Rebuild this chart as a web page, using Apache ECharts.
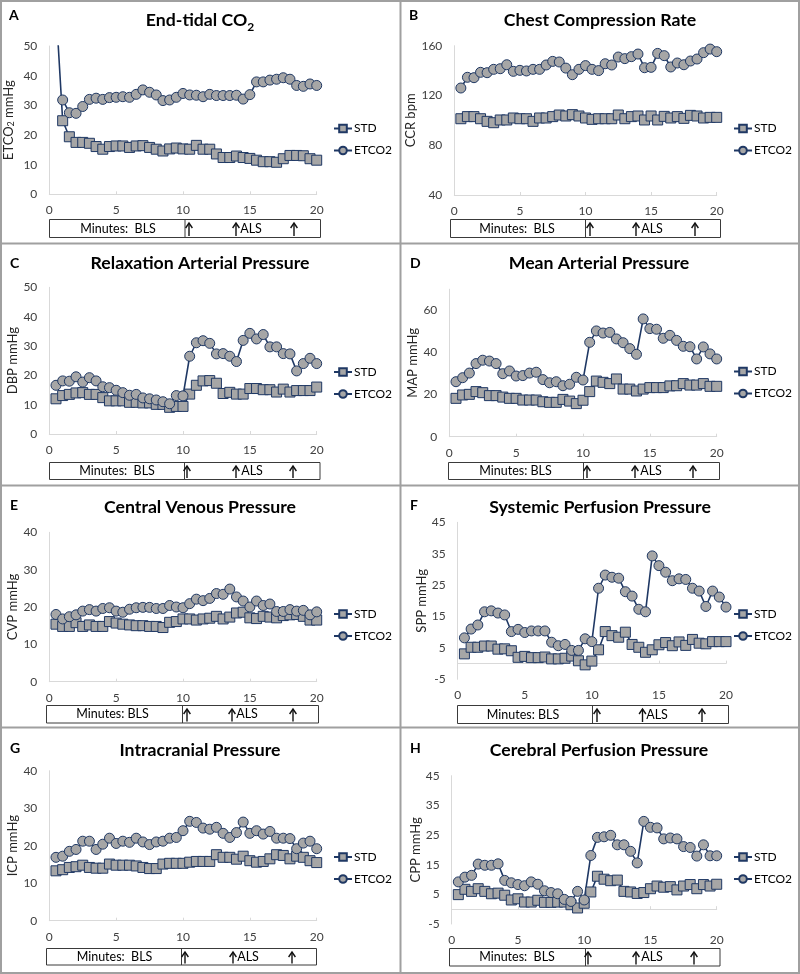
<!DOCTYPE html>
<html><head><meta charset="utf-8">
<script src="https://cdn.jsdelivr.net/npm/echarts@6/dist/echarts.min.js"></script>
<style>html,body{margin:0;padding:0;background:#fff}#c{width:800px;height:974px}</style>
</head><body><div id="c"></div>
<script>
// ---------- data ----------
const minutes = [0.5,1,1.5,2,2.5,3,3.5,4,4.5,5,5.5,6,6.5,7,7.5,8,8.5,9,9.5,10,10.5,11,11.5,12,12.5,13,13.5,14,14.5,15,15.5,16,16.5,17,17.5,18,18.5,19,19.5,20];
const seriesNames = ['STD','ETCO2'];
const xTicks = [0,5,10,15,20];

const etco2Std   = [63,24.8,19.4,17.5,17.5,17.2,16.1,15.2,16.1,16.3,16.3,15.8,16.3,16.4,15.8,15.2,14.6,15.3,15.6,15.3,15.2,16.5,15.2,15.2,13.6,12.4,12.4,12.9,12.4,12.1,11.5,11,11,10.8,12,13.1,13.1,13,12,11.5];
const etco2Etco2 = [null,31.8,27.5,27.3,29.6,32,32.4,32,32.6,32.7,32.9,32.7,33.7,35.2,34.4,33.5,31.6,31.8,32.7,34,33.5,33.4,32.9,33.7,33.3,33.3,33.3,33.4,32.1,33.6,37.9,37.9,38.5,38.8,39.3,38.8,36.7,36.4,37.2,36.7];
const ccrStd     = [101.3,103,103,101.3,99.2,98.1,100.3,100.3,101.9,101.3,101.3,99.2,101.9,101.9,103,104.3,103.5,104.6,103.5,101.9,100.8,101.3,101.3,101.3,104.3,101.3,103,103.5,100.3,103.5,100.3,103.2,101.9,103,101.6,104,103.5,101.9,102.4,102.4];
const ccrEtco2   = [126,134.6,134.3,138.6,138.3,141,141.5,144.7,139.4,140.2,139.7,141,141,144.5,147.4,146.9,142,136.7,141,144,141,140,145.5,144.5,150.9,149.6,151.2,153.3,142.3,142.6,153.8,152,142.9,146.1,144.7,147.7,149.3,154.4,157.3,155.2];
const dbpStd     = [12,13.1,13.5,14,14.1,13.5,13.5,12.4,11.3,11.3,11.3,10.8,10.8,10.6,10.6,10.1,10.1,9.1,9.4,9.4,13.6,16.6,18.1,18.2,17.3,13.8,14.2,13.6,13.6,15.5,15.5,15.1,15.1,14.3,15.3,14.3,14.8,14.8,14.8,16];
const dbpEtco2   = [16.6,18.1,18,19.5,17.7,19.2,18.1,16.1,15.8,14.9,14.1,13.2,13.5,12.3,12,11.6,11,10.3,13.1,13,26.5,31.1,31.8,30.9,27.3,27.4,26.5,24.7,31.9,34.3,32.4,33.9,29.7,29.7,27.4,27.3,21.5,24,25.8,24];
const mapStd     = [18.2,19.8,20.1,21.4,20.9,19.5,19.5,18.8,18.2,18.2,17.4,17.4,17.4,16.6,16.3,16.3,17.7,16.9,15.7,17.3,21.4,26.4,25.8,25.2,27.4,22.6,22.6,21.7,22.6,23.3,23.3,23.3,24.1,24.2,25.2,24.5,24.5,25.2,23.9,23.9];
const mapEtco2   = [26.1,28,30.2,34.7,36.3,35.9,34.7,29.9,31.2,28.8,29,30.2,30.6,27.1,25.6,26.1,24.2,24.9,28.2,26.9,44.8,50.2,49.2,49.5,46.4,44.6,41.8,39.1,55.9,51.3,51,46.7,48.1,45.7,42.9,42.7,36.9,42.6,39.3,36.9];
const cvpStd     = [15.4,14.8,14.8,15.8,14.8,15.2,14.8,14.8,16.1,15.7,15.4,15.2,15,15,14.8,14.8,14.5,15.9,16.1,16.8,16.8,16.5,16.8,17,17.5,16.8,17.3,18.4,18.6,17.1,16.9,17.5,17.3,17.1,17.7,17.9,18,17.5,16.5,16.5];
const cvpEtco2   = [18,16.8,17.4,17.9,18.9,19.3,18.9,19.6,19.8,18.9,18.6,19.4,19.8,19.9,19.9,19.6,19.6,20.4,20,19.8,20.9,22.1,21.7,22.3,23.6,23.4,24.8,22.7,21.6,20,21.6,20.4,20.8,18.8,18.8,19.3,18.9,19.1,17.9,18.7];
const sppStd     = [3.1,5.2,5.2,5.6,5.6,4.6,4.7,4.1,2,2.3,1.9,1.9,2.1,1.5,1.5,1.7,2.4,0.9,-0.4,0.8,4.4,10.2,8.9,8.4,10,6.1,5.2,3.6,4.4,6,6.7,5.7,6.9,5.8,7.7,6.5,6.3,7,7,7];
const sppEtco2   = [8.2,11,12.3,16.5,16.8,16.1,15.5,10.2,10.9,9.9,10.4,10.4,10.4,6.8,5.7,6.1,4.2,4.2,7.9,7,24,28.2,27.5,27.2,22.9,21.5,17.3,16.5,34.3,31.2,29.1,26.4,27,26.8,24,23.1,18.2,23.1,21.2,18];
const icpStd     = [13.3,13.6,14.2,14.4,14.8,14.2,14,14,15.1,14.8,14.8,14.8,14.6,14.2,13.9,13.9,15.1,15.3,15.3,15.3,15.6,15.8,15.8,15.8,17.6,16.9,16.9,16.4,17.2,16,15.6,15.8,16.5,17.6,17.4,16.5,17.2,16.9,16,15.5];
const icpEtco2   = [16.9,17.2,18.5,19,21.2,21.2,19,20.4,22,20.6,21.2,20.9,22,21,20.3,21,21.2,22,22.2,24,26.5,26.2,24.7,24.4,24.9,23.3,22.2,23.5,26.3,23.3,24,23.1,23.8,22,22,21.9,19.2,20.7,21.2,19.2];
const cppStd     = [4.9,6.7,6,6.9,6,5.2,5.4,4.7,3.1,3.5,2.4,2.4,3,2.3,2.3,2.4,2.4,1.5,0.4,2,5.8,11.1,10.1,9.6,9.8,6,5.8,5.3,5.6,6.9,7.8,7.4,7.6,6.5,7.8,8.3,6.9,8.3,7.8,8.4];
const cppEtco2   = [9.2,10.8,11.4,15.2,14.8,14.8,15.3,9.7,8.9,8.3,7.9,9.2,8.4,6.2,5.6,5.2,3.3,2.6,6,3.1,18.1,24.2,24.4,24.9,21.7,21.7,19.5,15.6,29.6,27.6,27.4,23.7,24,23.7,21.1,20.8,17.9,21.7,18,18];

const ticksA = [0,10,20,30,40,50];
const ticksB = [40,80,120,160];
const ticksC = [0,10,20,30,40,50];
const ticksD = [0,20,40,60];
const ticksE = [0,10,20,30,40];
const ticksF = [-5,5,15,25,35,45];
const ticksG = [0,10,20,30,40];
const ticksH = [-5,5,15,25,35,45];

const panels = [
  {letter:'A', title:'End-tidal CO{s|2}', yName:'ETCO{s|2} mmHg', std:etco2Std, et:etco2Etco2, ticks:ticksA, min:0, max:50, boxText:'Minutes:  BLS'},
  {letter:'B', title:'Chest Compression Rate', yName:'CCR bpm', std:ccrStd, et:ccrEtco2, ticks:ticksB, min:40, max:160, boxText:'Minutes:  BLS'},
  {letter:'C', title:'Relaxation Arterial Pressure', yName:'DBP mmHg', std:dbpStd, et:dbpEtco2, ticks:ticksC, min:0, max:50, boxText:'Minutes:  BLS'},
  {letter:'D', title:'Mean Arterial Pressure', yName:'MAP mmHg', std:mapStd, et:mapEtco2, ticks:ticksD, min:0, max:70, boxText:'Minutes: BLS'},
  {letter:'E', title:'Central Venous Pressure', yName:'CVP mmHg', std:cvpStd, et:cvpEtco2, ticks:ticksE, min:0, max:40, boxText:'Minutes: BLS'},
  {letter:'F', title:'Systemic Perfusion Pressure', yName:'SPP mmHg', std:sppStd, et:sppEtco2, ticks:ticksF, min:-5, max:45, boxText:'Minutes: BLS'},
  {letter:'G', title:'Intracranial Pressure', yName:'ICP mmHg', std:icpStd, et:icpEtco2, ticks:ticksG, min:0, max:40, boxText:'Minutes:  BLS'},
  {letter:'H', title:'Cerebral Perfusion Pressure', yName:'CPP mmHg', std:cppStd, et:cppEtco2, ticks:ticksH, min:-5, max:45, boxText:'Minutes:  BLS'}
];

// ---------- layout (pixels) ----------
const layout = [
  {grid:[49.3,46,267.4,148.3], cx:200, capY:21, letter:[9,15], nameGap:34, leg:[333,122.5], box:[49.5,219.5,271,18], div:185, arrows:[189,236,294], bls:118, als:251},
  {grid:[454.3,45.7,262.4,149.3], cx:600, capY:21, letter:[409,15], nameGap:32, leg:[733,122.5], box:[450.5,219.5,270,18], div:585.5, arrows:[590,636,695], bls:517, als:652},
  {grid:[49.3,287.3,267.4,146.7], cx:200, capY:264, letter:[10,263], nameGap:27, leg:[333,366], box:[49.5,462.5,270.5,17], div:184.5, arrows:[187,236,293], bls:117, als:252},
  {grid:[449.3,289.2,267.4,147.5], cx:599, capY:264, letter:[410,263], nameGap:27, leg:[733,365.5], box:[448.5,462.5,271,17], div:583.5, arrows:[587,635,693], bls:515.5, als:651},
  {grid:[49.3,532.3,267.4,149.4], cx:200, capY:508, letter:[10,505], nameGap:27, leg:[333,608], box:[46.5,705.5,272,17.5], div:182.5, arrows:[187,232,293], bls:112.5, als:247},
  {grid:[457.7,522.3,268.3,157], cx:600, capY:508, letter:[410,505], nameGap:28, leg:[733,608], box:[457.5,705.5,271,18], div:592.5, arrows:[597,642.5,702], bls:523, als:657},
  {grid:[49.3,770.7,267.4,150], cx:200, capY:751, letter:[10,748], nameGap:27, leg:[333,851], box:[46.5,948.5,270,16.5], div:181.5, arrows:[185,233,292], bls:114.5, als:248},
  {grid:[451.7,775.7,265,148.3], cx:599, capY:751, letter:[410,748], nameGap:28, leg:[733,851], box:[449.5,948.5,270.5,17.5], div:585.5, arrows:[588,636,694], bls:517, als:652}
];

const NAVY = '#1f3864', FILL = '#a6a6a6', AXIS = '#d9d9d9', TXT = '#404040';
const FONT = 'Lato';

const grids = [], xAxes = [], yAxes = [], series = [], titles = [], legends = [], graphics = [];

panels.forEach((p, i) => {
  const L = layout[i];
  grids.push({left:L.grid[0], top:L.grid[1], width:L.grid[2], height:L.grid[3], containLabel:false});
  xAxes.push({
    gridIndex:i, type:'value', min:0, max:20, interval:5,
    axisLine:{show:true, lineStyle:{color:AXIS, width:1}},
    axisTick:{show:true, inside:true, length:3, lineStyle:{color:AXIS}},
    axisLabel:{fontFamily:FONT, fontSize:12, color:TXT, margin:10, customValues:xTicks},
    splitLine:{show:false}
  });
  yAxes.push({
    gridIndex:i, type:'value', min:p.min, max:p.max,
    name:p.yName, nameLocation:'middle', nameGap:L.nameGap,
    nameTextStyle:{fontFamily:FONT, fontSize:13, color:'#262626', rich:{s:{fontFamily:FONT, fontSize:9, color:'#262626', verticalAlign:'bottom', lineHeight:11}}},
    axisLine:{show:true, lineStyle:{color:AXIS, width:1}},
    axisTick:{show:false},
    axisLabel:{fontFamily:FONT, fontSize:12, color:TXT, margin:12, customValues:p.ticks},
    splitLine:{show:false}
  });
  const mk = (vals, name, sym) => ({
    name, type:'line', xAxisIndex:i, yAxisIndex:i, symbol:sym, symbolSize:10,
    data: minutes.map((m, k) => [m, vals[k]]),
    lineStyle:{color:NAVY, width:1.6},
    itemStyle:{color:FILL, borderColor:NAVY, borderWidth:1},
    emphasis:{disabled:true}, animation:false, clip:true, connectNulls:false
  });
  series.push(mk(p.std, seriesNames[0], 'rect'));
  series.push(mk(p.et, seriesNames[1], 'circle'));

  titles.push({
    text:p.title, left:L.cx, textAlign:'center', top:L.capY - 10, padding:0,
    textStyle:{fontFamily:FONT, fontWeight:'bold', fontSize:17.7, color:'#000',
      rich:{s:{fontFamily:FONT, fontWeight:'bold', fontSize:12, color:'#000', verticalAlign:'bottom', lineHeight:10, padding:[0,0,-4,0]}}}
  });
  legends.push({
    data:seriesNames, orient:'vertical', left:L.leg[0], top:L.leg[1], padding:0,
    itemWidth:18, itemHeight:9.5, itemGap:10, selectedMode:false,
    textStyle:{fontFamily:FONT, fontSize:12, color:'#000', padding:[0,0,0,-3]}
  });

  graphics.push({type:'text', x:L.letter[0], y:L.letter[1], style:{text:p.letter, font:'bold 14px ' + FONT, fill:'#000', textAlign:'left', textVerticalAlign:'middle'}});
  const b = L.box;
  graphics.push({type:'rect', shape:{x:b[0], y:b[1], width:b[2], height:b[3]}, style:{fill:'#fff', stroke:'#3a3a3a', lineWidth:1}});
  graphics.push({type:'line', shape:{x1:L.div, y1:b[1], x2:L.div, y2:b[1]+b[3]}, style:{stroke:'#3a3a3a', lineWidth:1}});
  const cy = b[1] + b[3]/2;
  graphics.push({type:'text', x:L.bls, y:cy, style:{text:p.boxText, font:'12.5px ' + FONT, fill:'#000', textAlign:'center', textVerticalAlign:'middle'}});
  const aTop = b[1] + 3.5, aBot = b[1] + b[3] - 1.5;
  L.arrows.forEach(ax => {
    graphics.push({type:'line', shape:{x1:ax, y1:aTop, x2:ax, y2:aBot}, style:{stroke:'#111', lineWidth:1.4}});
    graphics.push({type:'polyline', shape:{points:[[ax-3.4, aTop+5],[ax, aTop],[ax+3.4, aTop+5]]}, style:{stroke:'#111', lineWidth:1.4, fill:null}});
  });
  graphics.push({type:'text', x:L.als, y:cy, style:{text:'ALS', font:'12.5px ' + FONT, fill:'#000', textAlign:'center', textVerticalAlign:'middle'}});
});

// panel frame
const FR = '#a0a0a0';
graphics.push({type:'rect', shape:{x:1, y:1, width:798, height:972}, style:{fill:null, stroke:FR, lineWidth:2}});
graphics.push({type:'line', shape:{x1:400.5, y1:0, x2:400.5, y2:974}, style:{stroke:FR, lineWidth:2}});
[243.5, 485.5, 727.5].forEach(y => graphics.push({type:'line', shape:{x1:0, y1:y, x2:800, y2:y}, style:{stroke:FR, lineWidth:2}}));

const chart = echarts.init(document.getElementById('c'), null, {renderer:'canvas'});
chart.setOption({
  animation:false,
  backgroundColor:'#fff',
  title:titles, legend:legends, grid:grids, xAxis:xAxes, yAxis:yAxes, series:series,
  graphic:{elements:graphics}
});
</script></body></html>
